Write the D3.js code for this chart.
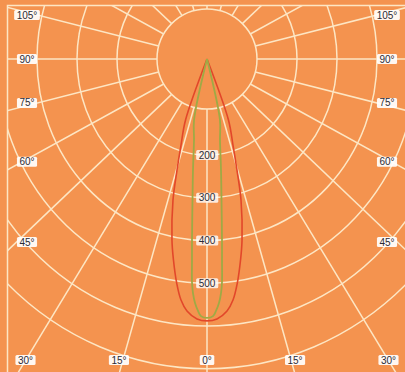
<!DOCTYPE html>
<html><head><meta charset="utf-8">
<script src="https://cdn.jsdelivr.net/npm/d3@7"></script>
<style>html,body{margin:0;padding:0;background:#F4934F;} svg{display:block}</style>
</head><body><svg id="chart" width="405" height="372"></svg>
<script>
// ---- data ----
const ringValues = [200, 300, 400, 500, 600, 700];
const hubValue = 100;
const ringLabels = [200, 300, 400, 500];
const spokeAngles = d3.range(0, 360, 15);
const sideLabelAngles = [105, 90, 75, 60, 45];
const bottomLabelAngles = [-30, -15, 0, 15, 30];
const redAngles   = [0, 2.35, 4.85, 6.57, 8.22, 10.1, 11.67, 14.44, 16.1, 17.9, 20.6, 21.0];
const redValues   = [588, 584, 567, 543, 505, 453, 408, 316, 245, 186, 127, 0];
const greenAngles = [0, 1.43, 2.18, 3.0, 3.66, 4.09, 4.56, 5.06, 6.27, 7.68, 9.73, 12.8, 13.1];
const greenValues = [581, 577, 565, 547, 524, 500, 447, 400, 307, 237, 167, 121, 0];

// ---- layout ----
const W = 405, H = 372, cx = 207, cy = 59, ky = 1.068, sx = 1.05;
const frameL = 7.5, frameT = 5.5, frameR = 2 * cx - frameL, frameB = H;
const bg = "#F4934F", grid = "#FDE6C4";
const rScale = d3.scaleLinear().domain([0, 100, 700]).range([0, 50, 290]);
const rad = d => d * Math.PI / 180;
const px = (a, v) => cx + rScale(v) * Math.sin(rad(a));
const py = (a, v) => cy + ky * rScale(v) * Math.cos(rad(a));
function dir(a) { const dx = sx * Math.sin(rad(a)), dy = Math.cos(rad(a)); const n = Math.hypot(dx, dy); return [dx / n, dy / n]; }

const svg = d3.select("#chart");
svg.append("rect").attr("width", W).attr("height", H).attr("fill", bg);
svg.append("defs").append("clipPath").attr("id", "frame")
  .append("rect").attr("x", frameL).attr("y", frameT).attr("width", frameR - frameL).attr("height", frameB - frameT);

const g = svg.append("g").attr("clip-path", "url(#frame)");
// rings
g.selectAll("ellipse.ring").data(ringValues).join("ellipse").attr("class", "ring")
  .attr("cx", cx).attr("cy", cy).attr("rx", d => rScale(d)).attr("ry", d => ky * rScale(d))
  .attr("fill", "none").attr("stroke", grid).attr("stroke-width", 1.5);
// hub
const hubR = rScale(hubValue);
g.append("circle").attr("cx", cx).attr("cy", cy).attr("r", hubR)
  .attr("fill", "none").attr("stroke", grid).attr("stroke-width", 1.5);
// spokes
g.selectAll("line.spoke").data(spokeAngles).join("line").attr("class", "spoke")
  .attr("x1", a => cx + hubR * Math.sin(rad(a))).attr("y1", a => cy + hubR * Math.cos(rad(a)))
  .attr("x2", a => cx + hubR * Math.sin(rad(a)) + 800 * dir(a)[0])
  .attr("y2", a => cy + hubR * Math.cos(rad(a)) + 800 * dir(a)[1])
  .attr("stroke", grid).attr("stroke-width", 1.5);
// frame
svg.append("path").attr("d", `M${frameL},${H}V${frameT}H${frameR}`)
  .attr("fill", "none").attr("stroke", grid).attr("stroke-width", 1.5);

// curves
function curvePts(angles, values) {
  const left = angles.map((a, i) => [-a, values[i]]).reverse();
  const right = angles.map((a, i) => [a, values[i]]).slice(1);
  return left.concat(right);
}
const line = d3.line().x(d => px(d[0], d[1])).y(d => py(d[0], d[1])).curve(d3.curveCatmullRom.alpha(0.5));
svg.append("path").attr("d", line(curvePts(redAngles, redValues)))
  .attr("fill", "none").attr("stroke", "#E2472A").attr("stroke-width", 1.6);
svg.append("path").attr("d", line(curvePts(greenAngles, greenValues)))
  .attr("fill", "none").attr("stroke", "#9FAA45").attr("stroke-width", 1.8);

// labels
function label(x, y, text, boxOpacity) {
  const lg = svg.append("g");
  const t = lg.append("text").attr("x", x).attr("y", y).attr("text-anchor", "middle")
    .attr("dominant-baseline", "central").attr("font-family", "Liberation Sans, Arial, sans-serif")
    .attr("font-size", 10).attr("fill", "#2b2b35").text(text);
  const b = t.node().getBBox();
  lg.insert("rect", "text").attr("x", b.x - 2.5).attr("y", b.y + 0.5).attr("width", b.width + 5).attr("height", b.height - 1)
    .attr("rx", 1.5).attr("fill", "#FFFFFF").attr("opacity", boxOpacity);
}
ringLabels.forEach(v => label(cx, py(0, v), String(v), 0.8));
sideLabelAngles.forEach(a => {
  [-1, 1].forEach(side => {
    const d = dir(side * a);
    const s = side < 0 ? (cx - frameL) / Math.abs(d[0]) : (frameR - cx) / Math.abs(d[0]);
    const ey = cy + s * d[1];
    const y = ey - 7 * Math.sign(Math.round(d[1] * 1000));
    const x = side < 0 ? frameL + 19.5 : frameR - 19.5;
    label(x, y, a + "°", 0.92);
  });
});
bottomLabelAngles.forEach(a => {
  const d = dir(a);
  const s = (frameB - cy) / d[1];
  const x = Math.max(frameL + 18, Math.min(frameR - 18, cx + s * d[0]));
  label(x, 360, Math.abs(a) + "°", 0.92);
});
</script></body></html>
